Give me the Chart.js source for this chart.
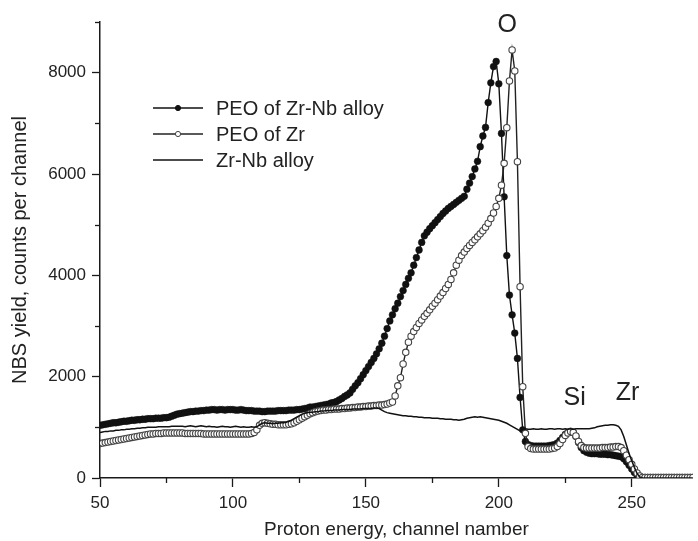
<!DOCTYPE html>
<html>
<head>
<meta charset="utf-8">
<title>NBS spectra</title>
<script src="https://cdn.jsdelivr.net/npm/chart.js@4.4.1/dist/chart.umd.min.js"></script>
<style>
  html, body { margin: 0; padding: 0; background: #fff; }
  canvas { display: block; }
</style>
</head>
<body>
<canvas id="nbsChart" width="698" height="541"></canvas>
<script>
// channel numbers 50..273, one point per channel
const channels = Array.from({ length: 224 }, (_, i) => 50 + i);

// PEO of Zr-Nb alloy (filled circles)
const peoZrNb = [
  1040,1050,1060,1070,1080,1090,1090,1100,1110,1120,
  1120,1130,1140,1140,1150,1150,1160,1160,1170,1170,
  1170,1180,1180,1180,1190,1190,1200,1220,1240,1260,
  1270,1280,1290,1300,1310,1310,1320,1320,1330,1330,
  1340,1340,1350,1350,1340,1350,1350,1340,1350,1350,
  1350,1340,1340,1350,1340,1330,1330,1330,1320,1320,
  1320,1310,1310,1320,1320,1320,1320,1330,1330,1330,
  1330,1340,1340,1340,1350,1350,1360,1370,1380,1400,
  1400,1410,1420,1430,1440,1450,1460,1480,1490,1510,
  1540,1570,1610,1640,1680,1750,1820,1880,1960,2040,
  2120,2200,2280,2360,2450,2550,2660,2800,2950,3100,
  3220,3340,3450,3580,3700,3820,3940,4050,4200,4350,
  4500,4650,4780,4850,4920,4980,5040,5100,5160,5220,
  5270,5320,5360,5400,5440,5480,5520,5560,5700,5820,
  5950,6100,6250,6540,6750,6920,7410,7800,8120,8220,
  7780,6800,5550,4390,3610,3220,2860,2360,1590,950,
  720,660,640,630,630,630,630,630,630,640,
  650,660,690,740,800,860,900,920,900,820,
  700,600,540,510,490,480,480,480,470,470,
  470,460,460,450,440,430,420,380,320,250,
  180,110,50,15,10,10,10,10,10,10,
  10,10,10,10,10,10,10,10,10,10,
  10,10,10,10
];

// PEO of Zr (open circles)
const peoZr = [
  680,690,700,710,720,730,740,750,760,770,
  780,790,800,810,820,830,840,850,860,870,
  870,880,880,880,890,890,890,890,890,890,
  890,890,880,880,880,880,880,880,880,870,
  870,870,870,870,870,870,870,870,870,870,
  870,870,870,870,870,870,870,880,900,950,
  1040,1080,1090,1080,1070,1060,1060,1050,1050,1050,
  1050,1060,1070,1090,1120,1150,1180,1210,1240,1270,
  1290,1310,1320,1330,1340,1340,1350,1350,1360,1360,
  1360,1370,1370,1380,1380,1390,1390,1400,1400,1410,
  1410,1420,1420,1430,1430,1440,1440,1450,1460,1480,
  1500,1620,1820,1980,2250,2480,2680,2800,2890,2970,
  3050,3120,3190,3250,3320,3390,3450,3520,3590,3660,
  3740,3820,3920,4050,4200,4300,4390,4460,4530,4590,
  4650,4700,4760,4820,4880,4950,5030,5120,5230,5360,
  5520,5780,6210,6915,7837,8449,8034,6244,3776,1802,
  882,620,580,570,570,570,570,570,570,570,
  580,590,620,680,760,840,890,920,900,830,
  720,640,600,590,590,590,590,590,590,600,
  600,600,610,610,620,620,600,540,450,360,
  270,180,100,40,10,10,10,10,10,10,
  10,10,10,10,10,10,10,10,10,10,
  10,10,10,10
];

// Zr-Nb alloy (plain line)
const zrNbAlloy = [
  900,910,920,920,930,930,940,940,950,950,
  960,960,970,970,980,980,990,990,1000,1000,
  1000,1000,1010,1010,1010,1010,1010,1020,1020,1020,
  1020,1020,1010,1020,1030,1020,1010,1020,1030,1020,
  1010,1020,1010,1010,1000,1010,1020,1010,1010,1000,
  1010,1020,1010,1000,1010,1000,1000,1010,1000,1010,
  1050,1080,1090,1080,1080,1070,1080,1080,1090,1090,
  1100,1120,1140,1170,1200,1230,1260,1280,1290,1300,
  1300,1310,1310,1320,1320,1330,1330,1330,1340,1340,
  1340,1350,1350,1350,1350,1360,1360,1360,1360,1370,
  1370,1370,1370,1380,1380,1370,1340,1310,1290,1280,
  1270,1260,1250,1240,1230,1230,1220,1220,1210,1210,
  1200,1200,1190,1190,1190,1180,1180,1180,1170,1170,
  1160,1160,1160,1150,1150,1140,1150,1160,1180,1190,
  1200,1210,1200,1210,1200,1190,1180,1170,1160,1150,
  1140,1120,1100,1080,1050,1020,990,960,930,950,
  970,960,960,970,960,960,970,960,960,970,
  970,960,970,970,960,970,960,970,960,970,
  970,970,970,970,970,980,990,1010,1020,1030,
  1040,1040,1050,1050,1040,1020,950,820,650,480,
  340,210,90,20,5,0,0,0,0,0,
  0,0,0,0,0,0,0,0,0,0,
  0,0,0,0
];

const seriesNames = ['PEO of Zr-Nb alloy', 'PEO of Zr', 'Zr-Nb alloy'];

const xMajorTicks = [50, 100, 150, 200, 250];
const xMinorTicks = [75, 125, 175, 225];
const yMajorTicks = [0, 2000, 4000, 6000, 8000];
const yMinorTicks = [1000, 3000, 5000, 7000, 9000];

const peakLabels = ['O', 'Si', 'Zr'];
const peakLabelX = [203.2, 228.5, 248.4];
const peakLabelY = [8940, 1570, 1670];

const axisColor = '#1a1a1a';
const textColor = '#222';
const fontFamily = '"Liberation Sans", Arial, Helvetica, sans-serif';

function toPoints(values) {
    return channels.map((c, i) => ({ x: c, y: values[i] }));
}

// minor ticks, peak labels and the legend box
const extras = {
    id: 'extras',
    afterDraw(chart) {
        const { ctx, chartArea } = chart;
        const x = chart.scales.x;
        const y = chart.scales.y;
        ctx.save();

        ctx.strokeStyle = axisColor;
        ctx.lineWidth = 1.3;
        xMinorTicks.forEach(v => {
            const px = Math.round(x.getPixelForValue(v)) + 0.5;
            ctx.beginPath();
            ctx.moveTo(px, chartArea.bottom);
            ctx.lineTo(px, chartArea.bottom + 5);
            ctx.stroke();
        });
        yMinorTicks.forEach(v => {
            const py = Math.round(y.getPixelForValue(v)) + 0.5;
            ctx.beginPath();
            ctx.moveTo(chartArea.left, py);
            ctx.lineTo(chartArea.left - 5, py);
            ctx.stroke();
        });

        ctx.fillStyle = textColor;
        ctx.font = '25px ' + fontFamily;
        ctx.textAlign = 'center';
        ctx.textBaseline = 'middle';
        peakLabels.forEach((t, i) => {
            ctx.fillText(t, x.getPixelForValue(peakLabelX[i]), y.getPixelForValue(peakLabelY[i]));
        });

        // legend: line sample + marker + text
        const legendX = 153, legendW = 50, legendTop = 108, rowH = 26;
        ctx.textAlign = 'left';
        ctx.font = '20px ' + fontFamily;
        chart.data.datasets.forEach((ds, i) => {
            const ly = legendTop + i * rowH;
            ctx.strokeStyle = ds.borderColor;
            ctx.lineWidth = 1.7;
            ctx.beginPath();
            ctx.moveTo(legendX, ly);
            ctx.lineTo(legendX + legendW, ly);
            ctx.stroke();
            if (ds.pointRadius > 0) {
                ctx.beginPath();
                ctx.arc(legendX + legendW / 2, ly, 2.6, 0, Math.PI * 2);
                ctx.fillStyle = ds.pointBackgroundColor;
                ctx.fill();
                ctx.lineWidth = 1;
                ctx.strokeStyle = ds.pointBorderColor;
                ctx.stroke();
            }
            ctx.fillStyle = textColor;
            ctx.fillText(ds.label, legendX + legendW + 13, ly + 1);
        });

        ctx.restore();
    }
};

Chart.defaults.font.family = fontFamily;
Chart.defaults.color = textColor;

const ctx = document.getElementById('nbsChart').getContext('2d');
new Chart(ctx, {
    type: 'line',
    data: {
        datasets: [
            {
                label: seriesNames[0],
                data: toPoints(peoZrNb),
                borderColor: '#111',
                borderWidth: 1.4,
                pointRadius: 3.4,
                pointBackgroundColor: '#111',
                pointBorderColor: '#111',
                pointBorderWidth: 0.5,
                order: 2
            },
            {
                label: seriesNames[1],
                data: toPoints(peoZr),
                borderColor: '#222',
                borderWidth: 1.4,
                pointRadius: 3.2,
                pointBackgroundColor: '#fff',
                pointBorderColor: '#444',
                pointBorderWidth: 1.1,
                order: 1
            },
            {
                label: seriesNames[2],
                data: toPoints(zrNbAlloy),
                borderColor: '#111',
                borderWidth: 1.5,
                pointRadius: 0,
                order: 0
            }
        ]
    },
    options: {
        responsive: false,
        animation: false,
        devicePixelRatio: 1,
        layout: { padding: { top: 22, right: 0, bottom: 0, left: 0 } },
        plugins: {
            legend: { display: false },
            tooltip: { enabled: false }
        },
        elements: { line: { tension: 0 } },
        scales: {
            x: {
                type: 'linear',
                min: 50,
                max: 273,
                afterBuildTicks: s => { s.ticks = xMajorTicks.map(v => ({ value: v })); },
                afterFit: s => { s.height = 63; },
                border: { display: true, color: axisColor, width: 1.5 },
                grid: { drawOnChartArea: false, drawTicks: true, tickLength: 9, color: axisColor, tickWidth: 1.3 },
                ticks: { font: { size: 17 }, padding: 6, maxRotation: 0, autoSkip: false, callback: v => String(v) },
                title: { display: true, text: 'Proton energy, channel namber', font: { size: 19 }, padding: { top: 0, bottom: 0 } }
            },
            y: {
                min: 0,
                max: 9000,
                afterBuildTicks: s => { s.ticks = yMajorTicks.map(v => ({ value: v })); },
                afterFit: s => { s.width = 100; },
                border: { display: true, color: axisColor, width: 1.5 },
                grid: { drawOnChartArea: false, drawTicks: true, tickLength: 8, color: axisColor, tickWidth: 1.3 },
                ticks: { font: { size: 17 }, padding: 6, callback: v => String(v) },
                title: { display: true, text: 'NBS yield, counts per channel', font: { size: 20 }, padding: { top: 8, bottom: 0 } }
            }
        }
    },
    plugins: [extras]
});
</script>
</body>
</html>
